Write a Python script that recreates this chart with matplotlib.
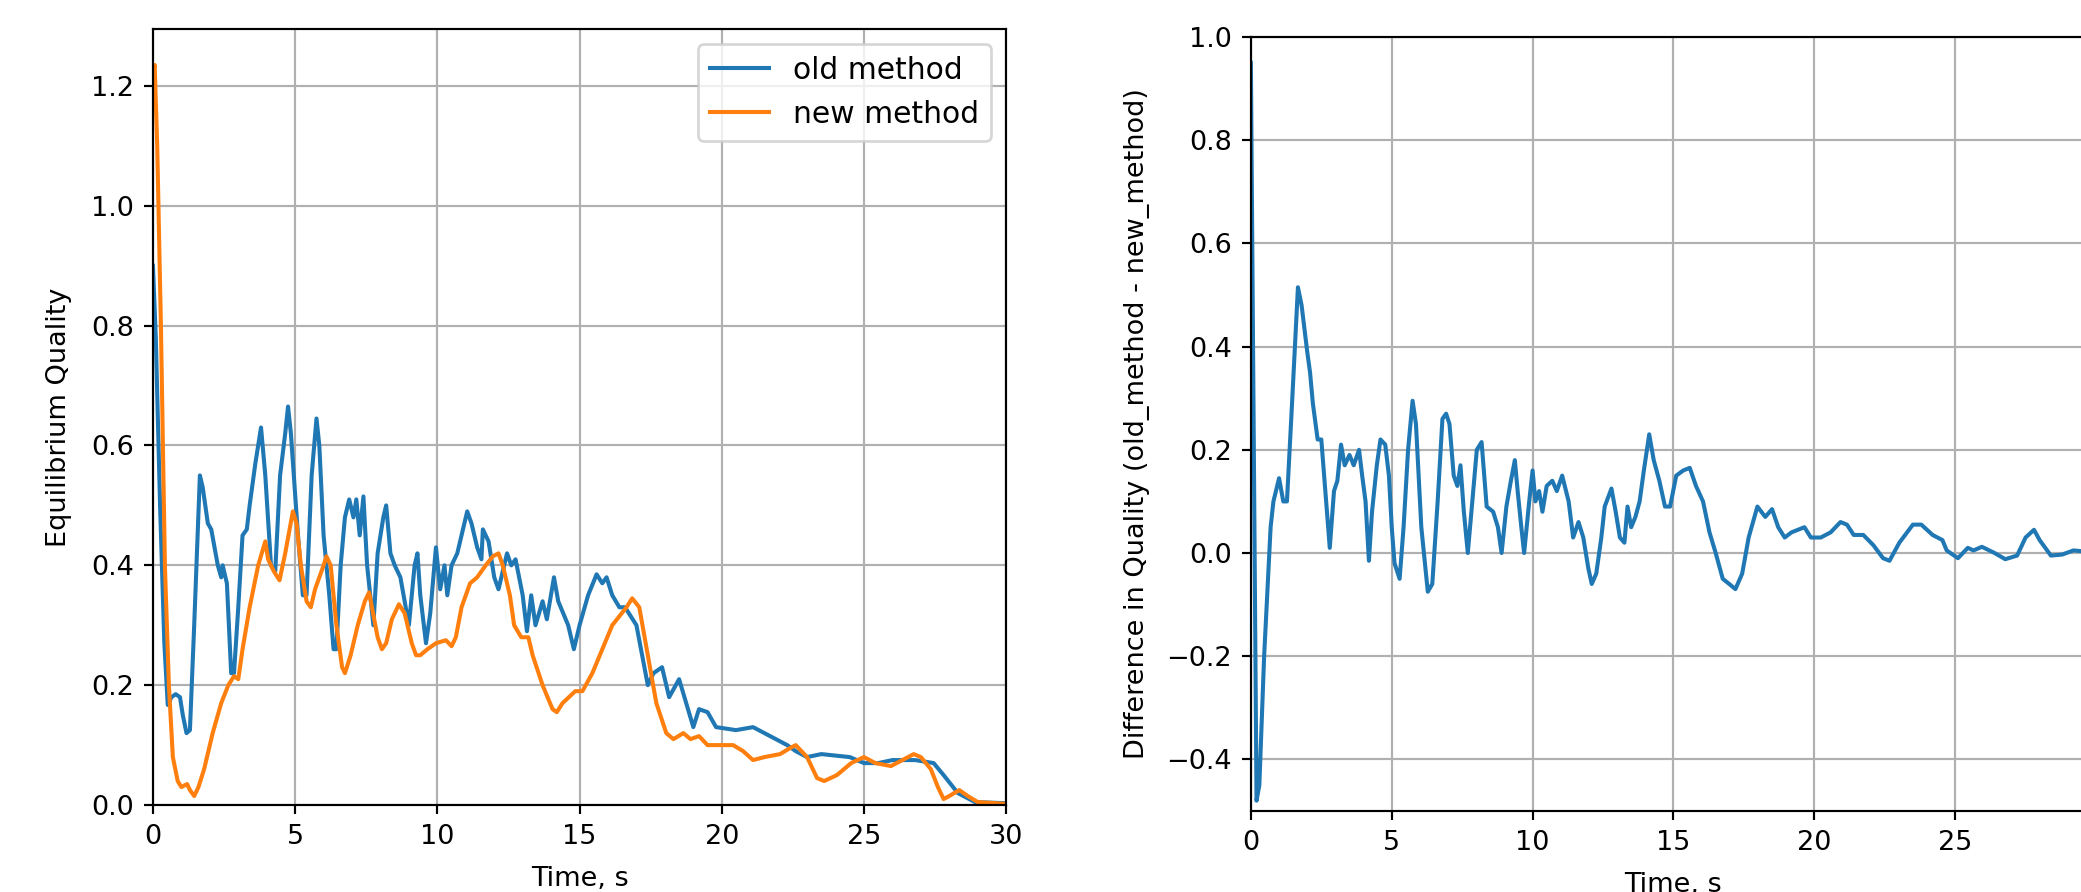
#!/usr/bin/env python3
import sys

import matplotlib
matplotlib.use("Agg")
import matplotlib.pyplot as plt

OUT_PNG = "out.png"
DPI = 195

# old method (time s, quality)
old_t = [0.0, 0.1, 0.25, 0.4, 0.52, 0.65, 0.8, 0.95, 1.05, 1.18, 1.3, 1.45, 1.65, 1.75,
         1.93, 2.05, 2.28, 2.4, 2.45, 2.6, 2.75, 2.85, 3.0, 3.15, 3.3, 3.4, 3.6, 3.8, 3.95,
         4.15, 4.3, 4.47, 4.65, 4.75, 4.85, 5.1, 5.27, 5.4, 5.58, 5.75, 5.85, 6.0, 6.2,
         6.35, 6.45, 6.6, 6.75, 6.9, 7.05, 7.15, 7.27, 7.4, 7.53, 7.75, 7.9, 8.1, 8.2,
         8.35, 8.5, 8.7, 9.0, 9.2, 9.3, 9.4, 9.6, 9.75, 9.95, 10.1, 10.25, 10.35, 10.5,
         10.7, 10.85, 11.05, 11.2, 11.4, 11.55, 11.6, 11.8, 12.0, 12.15, 12.45, 12.6,
         12.75, 13.0, 13.15, 13.3, 13.45, 13.7, 13.85, 14.1, 14.25, 14.6, 14.8, 15.0,
         15.3, 15.6, 15.8, 15.95, 16.15, 16.4, 16.6, 17.0, 17.2, 17.4, 17.6, 17.9, 18.15,
         18.5, 18.75, 19.0, 19.2, 19.5, 19.8, 20.5, 21.1, 21.5, 21.9, 22.3, 22.6, 23.0,
         23.5, 24.5, 25.0, 25.5, 26.0, 26.8, 27.45, 27.8, 28.3, 28.9, 30.0]
old_q = [0.90, 0.78, 0.50, 0.27, 0.167, 0.18, 0.185, 0.18, 0.15, 0.12, 0.125, 0.30, 0.55,
         0.53, 0.47, 0.46, 0.40, 0.38, 0.40, 0.37, 0.22, 0.22, 0.33, 0.45, 0.46, 0.50, 0.57,
         0.63, 0.55, 0.40, 0.39, 0.55, 0.62, 0.665, 0.62, 0.45, 0.35, 0.35, 0.55, 0.645,
         0.60, 0.45, 0.35, 0.26, 0.26, 0.40, 0.48, 0.51, 0.48, 0.51, 0.45, 0.515, 0.40,
         0.30, 0.42, 0.48, 0.50, 0.42, 0.40, 0.38, 0.30, 0.40, 0.42, 0.35, 0.27, 0.32,
         0.43, 0.36, 0.40, 0.35, 0.40, 0.42, 0.45, 0.49, 0.47, 0.43, 0.41, 0.46, 0.44,
         0.38, 0.36, 0.42, 0.40, 0.41, 0.35, 0.29, 0.35, 0.30, 0.34, 0.31, 0.38, 0.34,
         0.30, 0.26, 0.30, 0.35, 0.385, 0.37, 0.38, 0.35, 0.33, 0.33, 0.30, 0.25, 0.20,
         0.22, 0.23, 0.18, 0.21, 0.17, 0.13, 0.16, 0.155, 0.13, 0.125, 0.13, 0.12, 0.11,
         0.10, 0.09, 0.08, 0.085, 0.08, 0.07, 0.07, 0.075, 0.075, 0.07, 0.05, 0.02, 0.005,
         0.003]

# new method (time s, quality)
new_t = [0.0, 0.06, 0.15, 0.28, 0.42, 0.56, 0.7, 0.87, 1.0, 1.2, 1.3, 1.45, 1.6, 1.8, 2.1,
         2.4, 2.65, 2.85, 3.0, 3.15, 3.4, 3.7, 3.95, 4.05, 4.25, 4.45, 4.65, 4.92, 5.05,
         5.2, 5.4, 5.55, 5.7, 6.0, 6.1, 6.25, 6.45, 6.65, 6.75, 6.95, 7.2, 7.45, 7.6, 7.7,
         7.9, 8.05, 8.2, 8.4, 8.65, 8.85, 9.1, 9.25, 9.4, 9.65, 9.95, 10.3, 10.5, 10.65,
         10.85, 11.15, 11.4, 11.7, 11.95, 12.15, 12.3, 12.55, 12.7, 12.95, 13.2, 13.35,
         13.7, 14.05, 14.2, 14.4, 14.85, 15.1, 15.45, 15.8, 16.15, 16.65, 16.85, 17.1,
         17.4, 17.7, 18.05, 18.3, 18.65, 18.9, 19.2, 19.5, 20.0, 20.4, 20.75, 21.1, 21.5,
         22.05, 22.4, 22.6, 23.0, 23.35, 23.6, 24.05, 24.55, 25.0, 25.4, 25.95, 26.35,
         26.75, 27.0, 27.35, 27.6, 27.8, 28.0, 28.35, 28.65, 29.0, 30.0]
new_q = [1.22, 1.235, 1.10, 0.80, 0.40, 0.20, 0.08, 0.04, 0.03, 0.035, 0.025, 0.015, 0.03,
         0.06, 0.12, 0.17, 0.20, 0.215, 0.21, 0.26, 0.33, 0.40, 0.44, 0.41, 0.39, 0.375,
         0.42, 0.49, 0.47, 0.40, 0.34, 0.33, 0.36, 0.40, 0.415, 0.40, 0.30, 0.23, 0.22,
         0.25, 0.30, 0.34, 0.355, 0.33, 0.28, 0.26, 0.27, 0.31, 0.335, 0.32, 0.27, 0.25,
         0.25, 0.26, 0.27, 0.275, 0.265, 0.28, 0.33, 0.37, 0.38, 0.40, 0.415, 0.42, 0.40,
         0.35, 0.30, 0.28, 0.28, 0.25, 0.20, 0.16, 0.155, 0.17, 0.19, 0.19, 0.22, 0.26,
         0.30, 0.33, 0.345, 0.33, 0.25, 0.17, 0.12, 0.11, 0.12, 0.11, 0.115, 0.10, 0.10,
         0.10, 0.09, 0.075, 0.08, 0.085, 0.095, 0.10, 0.08, 0.045, 0.04, 0.05, 0.07, 0.08,
         0.07, 0.065, 0.075, 0.085, 0.08, 0.06, 0.03, 0.01, 0.015, 0.025, 0.015, 0.005,
         0.002]

# difference old - new (time s, quality difference)
diff_t = [0.0, 0.2, 0.3, 0.47, 0.7, 0.8, 1.0, 1.15, 1.28, 1.47, 1.67, 1.8, 2.0, 2.1, 2.2,
          2.37, 2.5, 2.67, 2.8, 2.95, 3.07, 3.2, 3.33, 3.5, 3.65, 3.84, 3.95, 4.07, 4.19,
          4.3, 4.47, 4.6, 4.77, 4.9, 5.0, 5.1, 5.28, 5.42, 5.58, 5.74, 5.86, 6.05, 6.28,
          6.44, 6.63, 6.8, 6.93, 7.05, 7.2, 7.33, 7.44, 7.56, 7.7, 7.86, 8.02, 8.19, 8.37,
          8.6, 8.77, 8.9, 9.07, 9.23, 9.37, 9.47, 9.6, 9.7, 9.88, 10.0, 10.1, 10.23, 10.35,
          10.5, 10.7, 10.86, 11.05, 11.28, 11.44, 11.63, 11.8, 11.98, 12.1, 12.26, 12.44,
          12.56, 12.8, 12.95, 13.1, 13.26, 13.37, 13.5, 13.65, 13.8, 13.95, 14.14, 14.3,
          14.5, 14.7, 14.88, 15.1, 15.35, 15.58, 15.8, 16.05, 16.28, 16.5, 16.75, 16.98,
          17.2, 17.44, 17.67, 17.98, 18.26, 18.5, 18.72, 18.95, 19.19, 19.42, 19.65, 19.88,
          20.23, 20.58, 20.93, 21.16, 21.4, 21.74, 22.1, 22.44, 22.67, 23.02, 23.5, 23.8,
          24.2, 24.55, 24.7, 25.1, 25.45, 25.65, 25.95, 26.4, 26.78, 27.2, 27.5, 27.8, 28.0,
          28.4, 28.8, 29.2, 29.6, 30.0]
diff_q = [0.95, -0.48, -0.45, -0.20, 0.05, 0.10, 0.145, 0.10, 0.10, 0.30, 0.515, 0.48,
          0.39, 0.35, 0.29, 0.22, 0.22, 0.10, 0.01, 0.12, 0.14, 0.21, 0.17, 0.19, 0.17,
          0.20, 0.15, 0.10, -0.015, 0.08, 0.17, 0.22, 0.21, 0.15, 0.05, -0.02, -0.05, 0.05,
          0.20, 0.295, 0.25, 0.05, -0.075, -0.06, 0.10, 0.26, 0.27, 0.25, 0.15, 0.13, 0.17,
          0.08, 0.0, 0.10, 0.20, 0.215, 0.09, 0.08, 0.05, 0.0, 0.09, 0.14, 0.18, 0.12, 0.05,
          0.0, 0.10, 0.16, 0.10, 0.12, 0.08, 0.13, 0.14, 0.12, 0.15, 0.10, 0.03, 0.06, 0.03,
          -0.03, -0.06, -0.04, 0.03, 0.09, 0.125, 0.08, 0.03, 0.02, 0.09, 0.05, 0.07, 0.10,
          0.16, 0.23, 0.18, 0.14, 0.09, 0.09, 0.15, 0.16, 0.165, 0.13, 0.10, 0.04, 0.0,
          -0.05, -0.06, -0.07, -0.04, 0.03, 0.09, 0.07, 0.085, 0.05, 0.03, 0.04, 0.045,
          0.05, 0.03, 0.03, 0.04, 0.06, 0.055, 0.035, 0.035, 0.015, -0.01, -0.015, 0.02,
          0.055, 0.055, 0.035, 0.025, 0.005, -0.01, 0.01, 0.005, 0.012, 0.0, -0.012, -0.005,
          0.03, 0.045, 0.025, -0.005, -0.003, 0.005, 0.003, 0.0]


def main():
    fig = plt.figure(figsize=(2081 / DPI, 892 / DPI), dpi=DPI)

    # the reference is a crop of a wider figure, so place the axes by hand
    ax1 = fig.add_axes([0.0735, 0.0975, 0.41, 0.87])
    ax2 = fig.add_axes([0.6011, 0.0908, 0.4061, 0.8677])

    ax1.plot(old_t, old_q, label="old method")
    ax1.plot(new_t, new_q, label="new method")
    ax1.set_xlim(0, 30)
    ax1.set_ylim(0, 1.295)
    ax1.set_xlabel("Time, s", labelpad=6)
    ax1.set_ylabel("Equilibrium Quality", labelpad=7)
    ax1.grid(True)
    ax1.legend(loc="upper right", fontsize=11)

    ax2.plot(diff_t, diff_q)
    ax2.set_xlim(0, 30)
    ax2.set_ylim(-0.5, 1.0)
    ax2.set_xlabel("Time, s", labelpad=6)
    ax2.set_ylabel("Difference in Quality (old_method - new_method)", labelpad=6)
    ax2.grid(True)

    fig.savefig(OUT_PNG, dpi=DPI)
    return 0


if __name__ == "__main__":
    sys.exit(main())
